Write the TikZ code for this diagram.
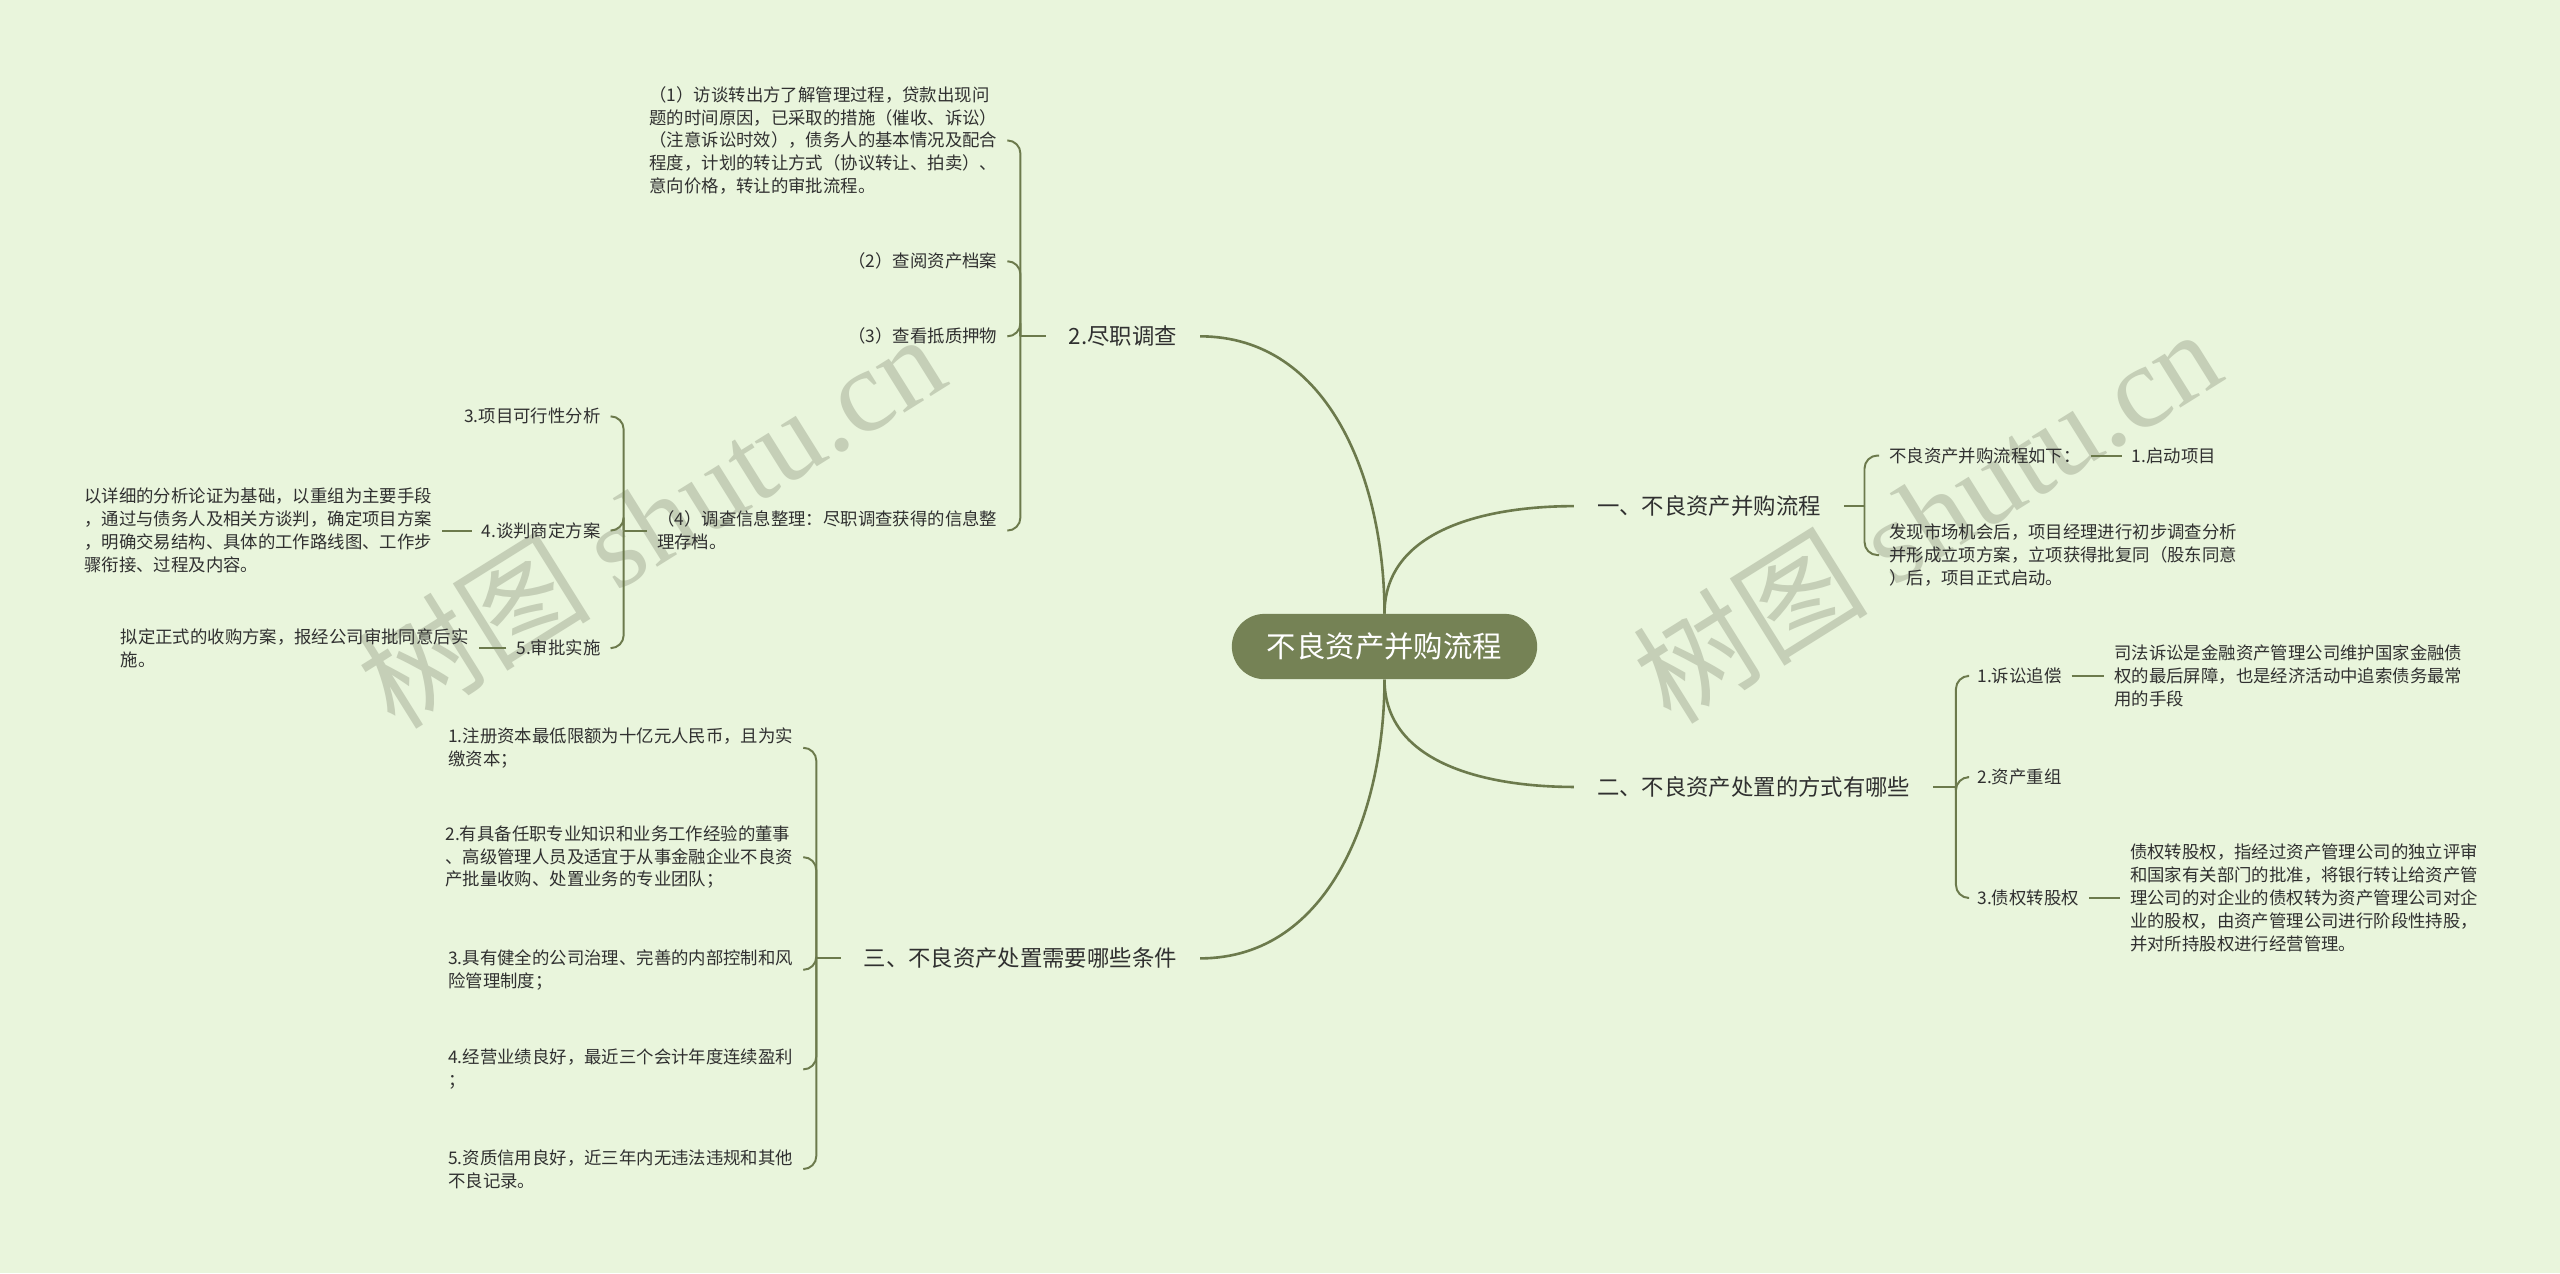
\documentclass[tikz,border=0pt]{standalone}
\usepackage{fontspec}
\setmainfont{Noto Sans CJK SC}
\newfontfamily\marklatin{Liberation Serif}
\usepackage{tikz}
\usetikzlibrary{positioning}

\definecolor{mapbg}{RGB}{233,245,220}
\definecolor{mapline}{RGB}{108,122,76}
\definecolor{maproot}{RGB}{117,130,85}
\definecolor{maptext}{RGB}{48,48,48}
\definecolor{mapmark}{RGB}{197,207,183}

\begin{document}
\begin{tikzpicture}[x=1pt,y=1pt,
        mainlink/.style={draw=mapline,line width=1.6pt},
        link/.style={draw=mapline,line width=1.2pt,rounded corners=8pt},
        topic/.style={text=maptext,inner xsep=14pt,inner ysep=4pt,font=\fontsize{13.7}{17}\selectfont},
        leaf/.style={text=maptext,inner xsep=6pt,inner ysep=2pt,align=left,font=\fontsize{10.65}{14}\selectfont}]

    \fill[mapbg] (0,0) rectangle (1568,-780);
    \useasboundingbox (0,0) rectangle (1568,-780);

    % watermarks
    \begin{scope}[every node/.style={text=mapmark,rotate=32,font=\fontsize{72}{72}\selectfont}]
        \node (mark1) at (398,-318) {树图 \marklatin shutu.cn};
        \node (mark2) at (1180,-315) {树图 \marklatin shutu.cn};
    \end{scope}

    \node[fill=maproot,text=white,rounded corners=20pt,minimum width=187pt,minimum height=40pt,
          font=\fontsize{18}{20}\selectfont] (root) at (848,-396) {不良资产并购流程};

    % main topics
    \node[topic,anchor=west] (one)   at (964,-310) {一、不良资产并购流程};
    \node[topic,anchor=west] (two)   at (964,-482) {二、不良资产处置的方式有哪些};
    \node[topic,anchor=east] (check) at (735,-206) {2.尽职调查};
    \node[topic,anchor=east] (three) at (735,-587) {三、不良资产处置需要哪些条件};

    \draw[mainlink] (root.north) to[out=90,in=0] (check.east);
    \draw[mainlink] (root.north) to[out=90,in=180] (one.west);
    \draw[mainlink] (root.south) to[out=-90,in=180] (two.west);
    \draw[mainlink] (root.south) to[out=-90,in=0] (three.east);

    \coordinate (j1) at (1142,-310);
    \coordinate (j2) at (1198,-482);
    \coordinate (j3) at (625,-206);
    \coordinate (j4) at (382,-325);
    \coordinate (j5) at (500,-587);

    % 一
    \begin{scope}[every node/.style={leaf,anchor=west}]
        \node (flow) at (1151,-279) {不良资产并购流程如下：};
        \node (found) at (1151,-340) {发现市场机会后，项目经理进行初步调查分析\\并形成立项方案，立项获得批复同（股东同意\\）后，项目正式启动。};
        \node[right=19pt of flow] (start) {1.启动项目};
    \end{scope}
    \draw[link] (one.east) -- (j1);
    \draw[link] (j1) |- (flow.west);
    \draw[link] (j1) |- (found.west);
    \draw[link] (flow.east) -- (start.west);

    % 二
    \begin{scope}[every node/.style={leaf,anchor=west}]
        \node (suit) at (1205,-414) {1.诉讼追偿};
        \node (regroup) at (1205,-476) {2.资产重组};
        \node (swap) at (1205,-550) {3.债权转股权};
        \node[right=20pt of suit] (suitnote) {司法诉讼是金融资产管理公司维护国家金融债\\权的最后屏障，也是经济活动中追索债务最常\\用的手段};
        \node[right=19pt of swap] (swapnote) {债权转股权，指经过资产管理公司的独立评审\\和国家有关部门的批准，将银行转让给资产管\\理公司的对企业的债权转为资产管理公司对企\\业的股权，由资产管理公司进行阶段性持股，\\并对所持股权进行经营管理。};
    \end{scope}
    \draw[link] (two.east) -- (j2);
    \foreach \n in {suit,regroup,swap}
        \draw[link] (j2) |- (\n.west);
    \draw[link] (suit.east) -- (suitnote.west);
    \draw[link] (swap.east) -- (swapnote.west);

    % 2.尽职调查
    \begin{scope}[every node/.style={leaf,anchor=east}]
        \node (talk) at (617,-86) {（1）访谈转出方了解管理过程，贷款出现问\\题的时间原因，已采取的措施（催收、诉讼）\\（注意诉讼时效），债务人的基本情况及配合\\程度，计划的转让方式（协议转让、拍卖）、\\意向价格，转让的审批流程。};
        \node (files) at (617,-160) {（2）查阅资产档案};
        \node (pledge) at (617,-206) {（3）查看抵质押物};
        \node (sort) at (617,-325) {（4）调查信息整理：尽职调查获得的信息整\\理存档。};
    \end{scope}
    \draw[link] (check.west) -- (j3);
    \foreach \n in {talk,files,pledge,sort}
        \draw[link] (j3) |- (\n.east);

    % 3. 4. 5.
    \begin{scope}[every node/.style={leaf,anchor=east}]
        \node (feasible) at (374,-255) {3.项目可行性分析};
        \node (deal) at (374,-325) {4.谈判商定方案};
        \node (approve) at (374,-397) {5.审批实施};
        \node[left=18pt of deal] (dealnote) {以详细的分析论证为基础，以重组为主要手段\\，通过与债务人及相关方谈判，确定项目方案\\，明确交易结构、具体的工作路线图、工作步\\骤衔接、过程及内容。};
        \node[left=17pt of approve] (approvenote) {拟定正式的收购方案，报经公司审批同意后实\\施。};
    \end{scope}
    \draw[link] (sort.west) -- (j4);
    \foreach \n in {feasible,deal,approve}
        \draw[link] (j4) |- (\n.east);
    \draw[link] (deal.west) -- (dealnote.east);
    \draw[link] (approve.west) -- (approvenote.east);

    % 三
    \begin{scope}[every node/.style={leaf,anchor=east}]
        \node (capital) at (492,-458) {1.注册资本最低限额为十亿元人民币，且为实\\缴资本；};
        \node (team) at (492,-525) {2.有具备任职专业知识和业务工作经验的董事\\、高级管理人员及适宜于从事金融企业不良资\\产批量收购、处置业务的专业团队；};
        \node (govern) at (492,-594) {3.具有健全的公司治理、完善的内部控制和风\\险管理制度；};
        \node (profit) at (492,-655) {4.经营业绩良好，最近三个会计年度连续盈利\\；};
        \node (credit) at (492,-716) {5.资质信用良好，近三年内无违法违规和其他\\不良记录。};
    \end{scope}
    \draw[link] (three.west) -- (j5);
    \foreach \n in {capital,team,govern,profit,credit}
        \draw[link] (j5) |- (\n.east);

\end{tikzpicture}
\end{document}
